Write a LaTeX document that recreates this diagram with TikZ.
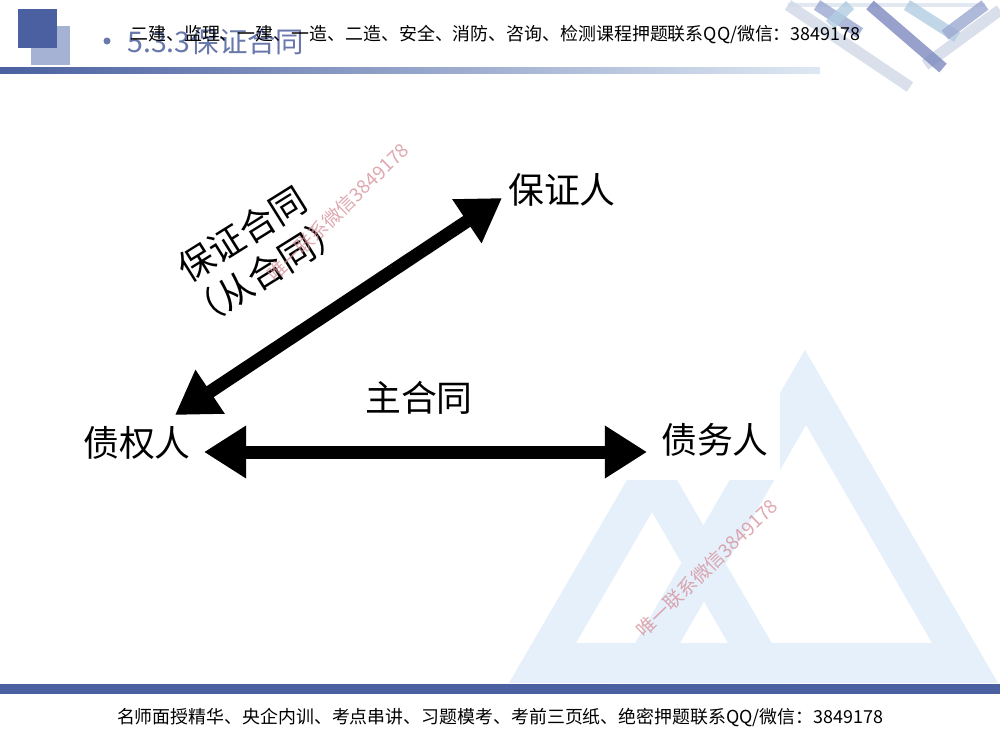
\documentclass[tikz,border=0pt]{standalone}
\usepackage{fontspec}
\usepackage{tikz}
\usetikzlibrary{arrows.meta,calc}
\setmainfont{Noto Sans CJK SC}
\definecolor{slideblue}{RGB}{74,96,160}
\definecolor{slidelight}{RGB}{166,178,212}
\definecolor{titleblue}{RGB}{105,120,172}
\definecolor{linelight}{RGB}{222,232,243}
\definecolor{logoblue}{RGB}{230,240,251}
\definecolor{chevdark}{RGB}{125,138,190}
\definecolor{chevmid}{RGB}{155,168,208}
\definecolor{chevsky}{RGB}{178,205,226}
\definecolor{chevlight}{RGB}{208,217,232}
\definecolor{markred}{RGB}{212,140,150}

\begin{document}
\begin{tikzpicture}[x=0.02cm, y=-0.02cm]
    \tikzstyle{party} = [inner sep=0pt, font=\fontsize{20.4}{24}\selectfont]
    \tikzstyle{contract} = [inner sep=0pt, font=\fontsize{20.4}{25.5}\selectfont, align=center]
    \tikzstyle{banner} = [inner sep=0pt, font=\fontsize{10.2}{12}\selectfont]
    \tikzstyle{watermark} = [inner sep=0pt, text=markred, opacity=.75, rotate=44, font=\fontsize{10.8}{12}\selectfont]
    \tikzstyle{link} = [line width=7.4pt, {Triangle[length=24pt,width=28.4pt]}-{Triangle[length=24pt,width=28.4pt]}]
    \tikzstyle{chev} = [line width=6.5pt, opacity=.8]

    \useasboundingbox (0,0) rectangle (1000,750);
    \fill[white] (0,0) rectangle (1000,750);

    % logo in the background
    \fill[logoblue, even odd rule] (652,437) -- (795,683) -- (509,683) -- cycle (652,512) -- (728,643) -- (576,643) -- cycle;
    \fill[logoblue, even odd rule] (805,350) -- (998,683) -- (612,683) -- cycle (806,425) -- (932,643) -- (680,643) -- cycle;
    \fill[white] (60,95) rectangle (780,480);

    % header
    \fill[slidelight] (31,26) rectangle (70,65);
    \fill[slideblue] (18,9) rectangle (57,48);
    \shade[left color=slideblue, right color=linelight] (0,68) rectangle (820,74);
    \draw[chevlight, opacity=.6, line width=2pt] (788,5) -- (985,5);
    \draw[chev, chevlight] (788,5) -- (910,87);
    \draw[chev, chevlight] (925,65) -- (1000,10);
    \draw[chev, chevmid] (817,5) -- (860,33);
    \draw[chev, chevsky] (830,25) -- (850,5);
    \draw[chev, chevsky] (907,5) -- (957,37);
    \draw[chev, chevdark] (870,5) -- (943,68);
    \draw[chev, chevmid] (945,35) -- (985,5);

    \fill[titleblue] (107,41) circle (3.5);
    \node[anchor=west, inner sep=0pt, text=titleblue, font=\fontsize{16.2}{18}\selectfont] (title) at (127,42) {5.3.3保证合同};
    \node[banner, anchor=west] (ad) at (130,35) {二建、监理、一建、一造、二造、安全、消防、咨询、检测课程押题联系QQ/微信：3849178};

    % footer
    \fill[slideblue] (0,684) rectangle (1000,694);
    \node[banner] (slogan) at (500,718) {名师面授精华、央企内训、考点串讲、习题模考、考前三页纸、绝密押题联系QQ/微信：3849178};

    % parties and contracts
    \node[party] (guarantor) at (562,190) {保证人};
    \node[party] (creditor) at (137,443) {债权人};
    \node[party] (debtor) at (715,440) {债务人};
    \node[party] (main) at (419,398) {主合同};
    \node[contract, rotate=32] (surety) at (254,253) {保证合同\\（从合同）};

    \draw[link] ($(creditor)+(67,9)$) -- ($(debtor)+(-68,12)$);
    \draw[link] ($(creditor)+(38,-28)$) -- ($(guarantor)+(-60,8)$);

    \node[watermark] (wm1) at (338,212) {唯一联系微信3849178};
    \node[watermark] (wm2) at (707,568) {唯一联系微信3849178};
\end{tikzpicture}
\end{document}
